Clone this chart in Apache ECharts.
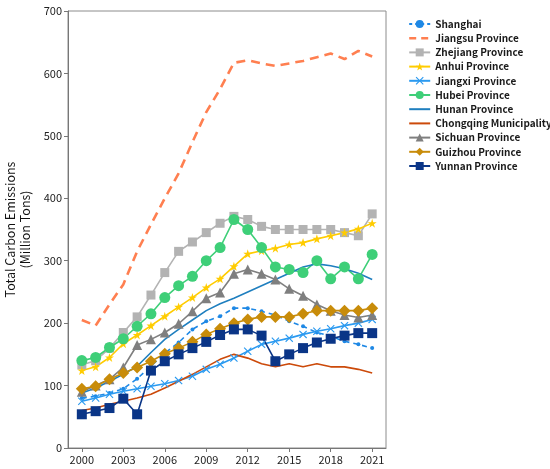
<!DOCTYPE html>
<html>
<head>
<meta charset="utf-8">
<script src="https://cdn.jsdelivr.net/npm/echarts@6/dist/echarts.min.js"></script>
<style>
  html, body { margin: 0; padding: 0; background: #fff; }
  #chart { width: 550px; height: 469px; }
</style>
</head>
<body>
<div id="chart"></div>
<script>
// years on the x axis
var years = [2000, 2001, 2002, 2003, 2004, 2005, 2006, 2007, 2008, 2009, 2010,
             2011, 2012, 2013, 2014, 2015, 2016, 2017, 2018, 2019, 2020, 2021];
var xTicks = [2000, 2003, 2006, 2009, 2012, 2015, 2018, 2021];

// total carbon emissions, million tons
var shanghai  = [80, 83, 88, 95, 111, 131, 152, 169, 190, 203, 211, 224, 224, 219, 213, 203, 195, 185, 179, 171, 166, 160];
var jiangsu   = [205, 196, 230, 262, 315, 358, 400, 440, 490, 538, 575, 617, 621, 616, 612, 616, 620, 626, 632, 623, 636, 627];
var zhejiang  = [133, 140, 160, 185, 210, 245, 281, 315, 330, 345, 360, 371, 366, 355, 350, 350, 350, 350, 350, 345, 340, 375];
var anhui     = [124, 130, 145, 167, 181, 196, 211, 226, 241, 257, 271, 291, 311, 316, 320, 326, 329, 335, 340, 345, 351, 360];
var jiangxi   = [75, 80, 86, 91, 95, 99, 103, 108, 115, 126, 134, 144, 155, 166, 171, 176, 182, 187, 191, 196, 200, 206];
var hubei     = [140, 145, 161, 175, 195, 215, 241, 260, 275, 300, 321, 366, 350, 321, 290, 286, 281, 300, 271, 290, 271, 310];
var hunan     = [88, 96, 107, 118, 131, 153, 174, 190, 205, 220, 231, 240, 250, 260, 270, 280, 290, 295, 292, 287, 280, 270];
var chongqing = [60, 64, 70, 75, 80, 86, 96, 107, 118, 130, 142, 150, 144, 135, 130, 135, 130, 135, 130, 130, 126, 120];
var sichuan   = [90, 100, 110, 129, 165, 174, 185, 199, 219, 240, 249, 279, 286, 279, 270, 255, 244, 230, 220, 213, 209, 213];
var guizhou   = [95, 99, 110, 120, 129, 139, 151, 160, 170, 182, 191, 200, 206, 210, 210, 210, 215, 220, 220, 220, 220, 224];
var yunnan    = [54, 59, 64, 79, 54, 124, 139, 150, 160, 170, 181, 190, 190, 180, 139, 150, 160, 169, 175, 180, 184, 184];

var starPath = 'path://M5,0L6.2,3.6L10,3.6L6.9,5.8L8.1,9.5L5,7.2L1.9,9.5L3.1,5.8L0,3.6L3.8,3.6Z';
var crossPath = 'path://M0,1L1,0L5,4L9,0L10,1L6,5L10,9L9,10L5,6L1,10L0,9L4,5Z';
var font = 'Noto Sans CJK SC';

function pairs(vals) {
    return vals.map(function (v, i) { return [years[i], v]; });
}

function line(name, vals, color, opts) {
    opts = opts || {};
    return {
        name: name,
        type: 'line',
        data: pairs(vals),
        symbol: opts.symbol || 'none',
        symbolSize: opts.size || 8,
        showSymbol: !!opts.symbol,
        lineStyle: { color: color, width: opts.width || 1.6, type: opts.dash || 'solid' },
        itemStyle: { color: color },
        emphasis: { disabled: true }
    };
}

var series = [
    line('Shanghai', shanghai, '#1e88e5', { symbol: 'circle', size: 4, dash: [5, 4] }),
    line('Jiangsu Province', jiangsu, '#ff7f50', { width: 2.6, dash: [9, 6] }),
    line('Zhejiang Province', zhejiang, '#b3b3b3', { symbol: 'rect', size: 9 }),
    line('Anhui Province', anhui, '#ffcc00', { symbol: starPath, size: 9 }),
    line('Jiangxi Province', jiangxi, '#2b9af0', { symbol: crossPath, size: 8 }),
    line('Hubei Province', hubei, '#3ecf78', { symbol: 'circle', size: 11 }),
    line('Hunan Province', hunan, '#1f7fbf', {}),
    line('Chongqing Municipality', chongqing, '#cc4a0a', {}),
    line('Sichuan Province', sichuan, '#7f7f7f', { symbol: 'triangle', size: 10 }),
    line('Guizhou Province', guizhou, '#c88c0a', { symbol: 'diamond', size: 12 }),
    line('Yunnan Province', yunnan, '#0a3587', { symbol: 'rect', size: 10 })
];

// legend entries: hide the marker for plain lines, keep the dashes
var legendData = series.map(function (s) {
    var item = { name: s.name };
    if (s.symbol === 'none') item.itemStyle = { opacity: 0 };
    if (s.name === 'Shanghai') item.lineStyle = { type: [3, 3] };
    if (s.name === 'Jiangsu Province') item.lineStyle = { type: [7, 5], width: 2.4 };
    return item;
});

var chart = echarts.init(document.getElementById('chart'));
chart.setOption({
    animation: false,
    textStyle: { fontFamily: font },
    grid: {
        left: 68, right: 164, top: 11, bottom: 21,
        outerBoundsMode: 'none',
        containLabel: false,
        show: true, borderColor: '#8c8c8c', borderWidth: 1
    },
    legend: {
        orient: 'vertical',
        left: 403,
        top: 13,
        itemWidth: 21,
        itemHeight: 10,
        itemGap: 2.2,
        data: legendData,
        textStyle: { fontSize: 10, lineHeight: 12, fontWeight: 'bold', color: '#1a1a1a', fontFamily: font }
    },
    xAxis: {
        type: 'value',
        min: 1999,
        max: 2022,
        splitLine: { show: false },
        axisLine: { show: true, lineStyle: { color: '#777' } },
        axisTick: { show: true, length: 4, customValues: xTicks, lineStyle: { color: '#777' } },
        axisLabel: {
            customValues: xTicks, fontSize: 11, color: '#222', margin: 6,
            formatter: function (v) { return String(v); }
        }
    },
    yAxis: {
        type: 'value',
        min: 0,
        max: 700,
        interval: 100,
        name: 'Total Carbon Emissions\n(Million Tons)',
        nameLocation: 'middle',
        nameRotate: 90,
        nameGap: 35,
        nameMoveOverlap: false,
        nameTextStyle: { fontSize: 12.5, color: '#111', lineHeight: 15, fontFamily: font },
        splitLine: { show: false },
        axisLine: { show: true, lineStyle: { color: '#777' } },
        axisTick: { show: true, length: 4, lineStyle: { color: '#777' } },
        axisLabel: { fontSize: 11, color: '#222', margin: 6 }
    },
    series: series
});
</script>
</body>
</html>
